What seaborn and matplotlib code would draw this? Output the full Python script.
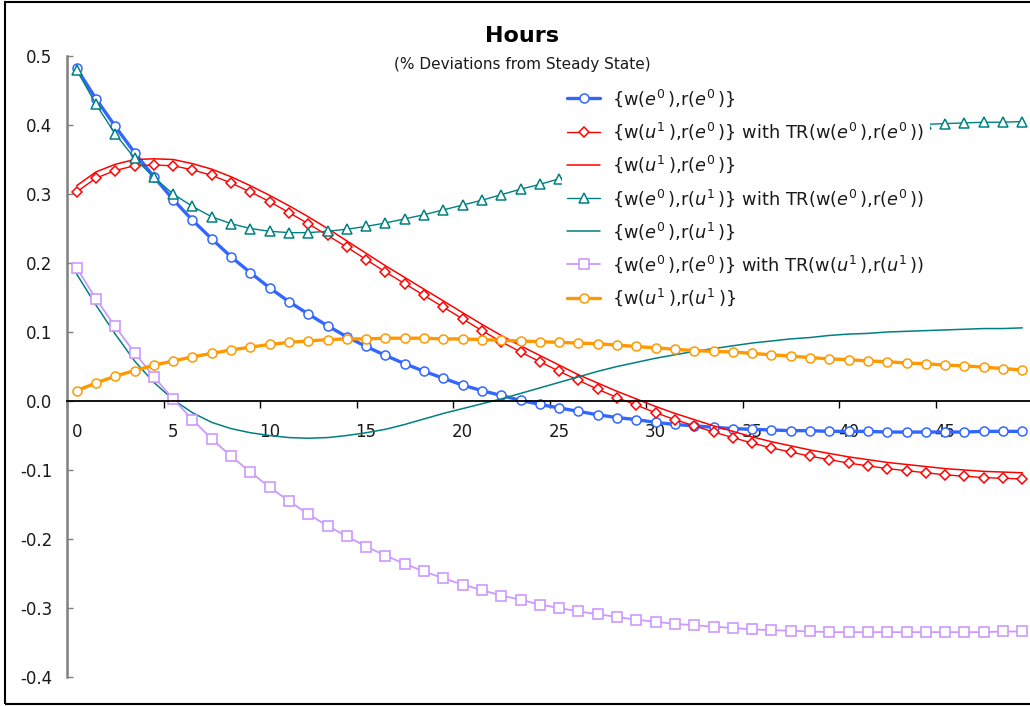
import numpy as np
import pandas as pd
import matplotlib
matplotlib.use("Agg")
import matplotlib.pyplot as plt
from matplotlib.patches import Rectangle
from matplotlib.ticker import FixedLocator, NullFormatter, FixedFormatter
import seaborn as sns

# ---- data -----------------------------------------------------------------
periods = list(range(50))

hours_e0_e0 = [0.482, 0.438, 0.398, 0.360, 0.325, 0.292, 0.262, 0.235, 0.209, 0.186,
               0.164, 0.144, 0.126, 0.109, 0.093, 0.079, 0.066, 0.054, 0.043, 0.033,
               0.023, 0.015, 0.008, 0.001, -0.005, -0.010, -0.015, -0.020, -0.024, -0.027,
               -0.031, -0.034, -0.036, -0.038, -0.040, -0.041, -0.042, -0.043, -0.043, -0.044,
               -0.044, -0.044, -0.045, -0.045, -0.045, -0.045, -0.045, -0.044, -0.044, -0.044]

hours_u1_e0_tr = [0.303, 0.323, 0.334, 0.341, 0.342, 0.341, 0.335, 0.327, 0.316, 0.303,
                  0.289, 0.273, 0.257, 0.240, 0.223, 0.205, 0.187, 0.170, 0.153, 0.136,
                  0.119, 0.102, 0.086, 0.071, 0.057, 0.043, 0.030, 0.017, 0.005, -0.006,
                  -0.017, -0.027, -0.036, -0.045, -0.053, -0.061, -0.068, -0.074, -0.080, -0.085,
                  -0.090, -0.094, -0.098, -0.101, -0.104, -0.107, -0.109, -0.111, -0.112, -0.113]

hours_u1_e0 = [0.312, 0.332, 0.343, 0.350, 0.351, 0.350, 0.344, 0.336, 0.325, 0.312,
               0.298, 0.283, 0.267, 0.250, 0.232, 0.214, 0.196, 0.179, 0.162, 0.145,
               0.128, 0.111, 0.095, 0.080, 0.066, 0.052, 0.038, 0.026, 0.014, 0.003,
               -0.008, -0.018, -0.027, -0.036, -0.044, -0.052, -0.059, -0.065, -0.071, -0.076,
               -0.081, -0.085, -0.089, -0.092, -0.095, -0.098, -0.100, -0.102, -0.103, -0.104]

hours_e0_u1_tr = [0.480, 0.430, 0.387, 0.352, 0.324, 0.300, 0.282, 0.267, 0.257, 0.250,
                  0.246, 0.244, 0.244, 0.246, 0.249, 0.253, 0.258, 0.264, 0.270, 0.277,
                  0.284, 0.291, 0.299, 0.307, 0.314, 0.322, 0.329, 0.336, 0.342, 0.348,
                  0.354, 0.359, 0.364, 0.369, 0.373, 0.377, 0.381, 0.384, 0.387, 0.390,
                  0.393, 0.395, 0.397, 0.399, 0.401, 0.402, 0.403, 0.404, 0.404, 0.405]

hours_e0_u1 = [0.184, 0.139, 0.097, 0.058, 0.027, 0.002, -0.017, -0.031, -0.040, -0.046,
               -0.050, -0.053, -0.054, -0.053, -0.050, -0.046, -0.041, -0.034, -0.026, -0.018,
               -0.011, -0.004, 0.003, 0.011, 0.019, 0.027, 0.035, 0.043, 0.050, 0.056,
               0.062, 0.067, 0.072, 0.076, 0.080, 0.084, 0.087, 0.090, 0.092, 0.095,
               0.097, 0.098, 0.100, 0.101, 0.102, 0.103, 0.104, 0.105, 0.105, 0.106]

hours_e0_e0_tr_u1 = [0.193, 0.148, 0.108, 0.070, 0.035, 0.003, -0.027, -0.055, -0.080, -0.103,
                     -0.125, -0.145, -0.164, -0.181, -0.196, -0.211, -0.224, -0.236, -0.247, -0.257,
                     -0.266, -0.274, -0.282, -0.288, -0.295, -0.300, -0.305, -0.309, -0.313, -0.317,
                     -0.320, -0.323, -0.325, -0.327, -0.329, -0.331, -0.332, -0.333, -0.334, -0.335,
                     -0.335, -0.335, -0.335, -0.335, -0.335, -0.335, -0.335, -0.335, -0.334, -0.334]

hours_u1_u1 = [0.015, 0.026, 0.036, 0.044, 0.052, 0.058, 0.064, 0.069, 0.074, 0.078,
               0.082, 0.085, 0.087, 0.089, 0.090, 0.090, 0.091, 0.091, 0.091, 0.090,
               0.090, 0.089, 0.088, 0.087, 0.086, 0.085, 0.084, 0.083, 0.081, 0.079,
               0.077, 0.075, 0.073, 0.072, 0.071, 0.069, 0.067, 0.065, 0.063, 0.061,
               0.060, 0.058, 0.057, 0.055, 0.054, 0.052, 0.051, 0.049, 0.047, 0.045]

x_tick_labels = ["0", "5", "10", "15", "20", "25", "30", "35", "40", "45"]
y_tick_values = [-0.4, -0.3, -0.2, -0.1, 0.0, 0.1, 0.2, 0.3, 0.4, 0.5]
y_tick_labels = ["-0.4", "-0.3", "-0.2", "-0.1", "0.0", "0.1", "0.2", "0.3", "0.4", "0.5"]

E0 = r"$e^{\mathit{0}}\,$"
U1 = r"$u^{\mathit{1}}\,$"
series_labels = [
    "{w(%s),r(%s)}" % (E0, E0),
    "{w(%s),r(%s)} with TR(w(%s),r(%s))" % (U1, E0, E0, E0),
    "{w(%s),r(%s)}" % (U1, E0),
    "{w(%s),r(%s)} with TR(w(%s),r(%s))" % (E0, U1, E0, E0),
    "{w(%s),r(%s)}" % (E0, U1),
    "{w(%s),r(%s)} with TR(w(%s),r(%s))" % (E0, E0, U1, U1),
    "{w(%s),r(%s)}" % (U1, U1),
]
series_values = [hours_e0_e0, hours_u1_e0_tr, hours_u1_e0, hours_e0_u1_tr,
                 hours_e0_u1, hours_e0_e0_tr_u1, hours_u1_u1]

# ---- styling --------------------------------------------------------------
sns.set_style("white")
plt.rcParams["font.family"] = ["DejaVu Sans"]
plt.rcParams["mathtext.fontset"] = "dejavusans"

styles = [
    dict(color="#3366FF", lw=2.4, marker="o", ms=6.5, mew=1.1),
    dict(color="#FF0000", lw=1.0, marker="D", ms=5.0, mew=1.1),
    dict(color="#FF0000", lw=1.1, marker=None),
    dict(color="#008080", lw=1.0, marker="^", ms=6.5, mew=1.1),
    dict(color="#008080", lw=1.1, marker=None),
    dict(color="#CC99FF", lw=1.3, marker="s", ms=6.5, mew=1.2),
    dict(color="#FF9900", lw=2.4, marker="o", ms=6.5, mew=1.1),
]

W, H = 1030, 706
fig = plt.figure(figsize=(W / 100, H / 100), dpi=100)
fig.patch.set_facecolor("white")

# plot area in pixel terms: x from 67 px, y between 56 px (0.5) and 677 px (-0.4)
left_px, top_px, bottom_px = 67, 56, 677
cat_px = 19.3
ax = fig.add_axes([left_px / W, (H - bottom_px) / H,
                   50 * cat_px / W, (bottom_px - top_px) / H])
ax.set_facecolor("white")

for vals, lab, st in zip(series_values, series_labels, styles):
    df = pd.DataFrame({"period": periods, "value": vals})
    kw = dict(color=st["color"], linewidth=st["lw"], label=lab)
    if st["marker"]:
        kw.update(marker=st["marker"], markersize=st["ms"], markerfacecolor="white",
                  markeredgecolor=st["color"], markeredgewidth=st["mew"])
    sns.lineplot(data=df, x="period", y="value", ax=ax, errorbar=None, legend=False, **kw)

ax.set_xlim(-0.5, 49.5)
ax.set_ylim(-0.4, 0.5)
ax.set_xlabel("")
ax.set_ylabel("")

# spines
for s in ("top", "right"):
    ax.spines[s].set_visible(False)
ax.spines["left"].set_color("#808080")
ax.spines["left"].set_linewidth(1.8)
ax.spines["bottom"].set_position(("data", 0.0))
ax.spines["bottom"].set_color("black")
ax.spines["bottom"].set_linewidth(1.3)

# x axis: tick marks between categories, labels under every fifth category
ax.xaxis.set_major_locator(FixedLocator(np.arange(-0.5, 50, 5)))
ax.xaxis.set_major_formatter(NullFormatter())
ax.xaxis.set_minor_locator(FixedLocator(np.arange(0, 50, 5)))
ax.xaxis.set_minor_formatter(FixedFormatter(x_tick_labels))
ax.tick_params(axis="x", which="major", direction="out", length=5, width=1.0,
               color="black", bottom=True)
ax.tick_params(axis="x", which="minor", length=0, pad=15.5, labelsize=12,
               labelcolor="#1a1a1a", bottom=True)

# y axis
ax.set_yticks(y_tick_values)
ax.set_yticklabels(y_tick_labels)
ax.tick_params(axis="y", direction="in", length=4.3, width=1.0, color="#808080",
               pad=10.5, labelsize=12, labelcolor="#1a1a1a", left=True)
ax.grid(False)

# titles
fig.text(522 / W, 1 - 36 / H, "Hours", ha="center", va="center",
         fontsize=16, fontweight="bold", color="black")
fig.text(522 / W, 1 - 64 / H, "(% Deviations from Steady State)", ha="center",
         va="center", fontsize=11, color="#1a1a1a")

# legend with an opaque white box
handles, labels = ax.get_legend_handles_labels()
leg = ax.legend(handles, labels, loc="upper left",
                bbox_to_anchor=(562 / W, 1 - 82 / H), bbox_transform=fig.transFigure,
                frameon=True, fancybox=False, framealpha=1.0, facecolor="white",
                edgecolor="white", fontsize=12.8, handlelength=1.85,
                handletextpad=0.67, labelspacing=0.65, borderpad=0.3,
                borderaxespad=0.0, numpoints=1)
leg.get_frame().set_linewidth(0)
leg.set_zorder(5)
for t in leg.get_texts():
    t.set_color("#1a1a1a")

# outer chart border
fig.patches.append(Rectangle((5 / W, 2 / H), 1.2, (H - 4) / H, transform=fig.transFigure,
                             fill=False, edgecolor="black", linewidth=1.5, zorder=10))

fig.savefig("out.png", dpi=100, facecolor="white")
